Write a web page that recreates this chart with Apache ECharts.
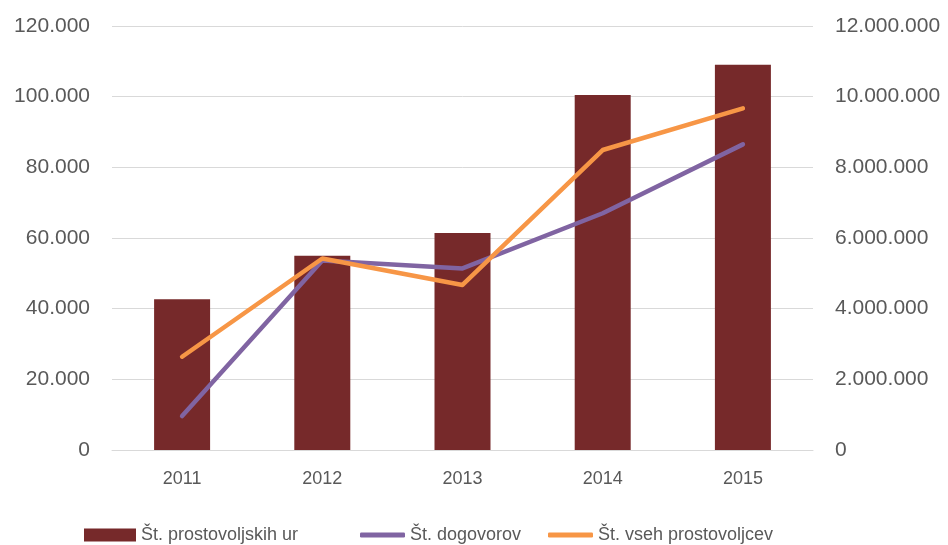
<!DOCTYPE html>
<html>
<head>
<meta charset="utf-8">
<script src="https://cdn.jsdelivr.net/npm/echarts@6/dist/echarts.min.js"></script>
<style>
html,body{margin:0;padding:0;background:#fff;}
#chart{width:948px;height:545px;}
</style>
</head>
<body>
<div id="chart"></div>
<script>
const categories = ['2011', '2012', '2013', '2014', '2015'];
const hoursName = 'Št. prostovoljskih ur';
const agreementsName = 'Št. dogovorov';
const volunteersName = 'Št. vseh prostovoljcev';
const hours = [4270000, 5500000, 6140000, 10050000, 10900000];
const agreements = [9600, 53600, 51400, 67000, 86500];
const volunteers = [26400, 54200, 46700, 84900, 96700];
const leftTicks = { min: 0, max: 120000, interval: 20000 };
const rightTicks = { min: 0, max: 12000000, interval: 2000000 };

function fmt(v) {
  return String(Math.round(v)).replace(/\B(?=(\d{3})+(?!\d))/g, '.');
}

const FONT = '"Liberation Sans", Arial, sans-serif';
const TXT = '#595959';

const chart = echarts.init(document.getElementById('chart'), null, { renderer: 'canvas' });
chart.setOption({
  animation: false,
  backgroundColor: '#ffffff',
  textStyle: { fontFamily: FONT, color: TXT },
  grid: { left: 112, right: 135, top: 26, bottom: 95, containLabel: false },
  legend: [
    {
      data: [{ name: hoursName, icon: 'rect' }],
      left: 79, top: 521, itemWidth: 52, itemHeight: 13,
      textStyle: { fontFamily: FONT, fontSize: 18, color: TXT },
      selectedMode: false
    },
    {
      data: [{ name: agreementsName, icon: 'roundRect' }],
      left: 355, top: 521, itemWidth: 45, itemHeight: 5,
      textStyle: { fontFamily: FONT, fontSize: 18, color: TXT },
      selectedMode: false
    },
    {
      data: [{ name: volunteersName, icon: 'roundRect' }],
      left: 543, top: 521, itemWidth: 45, itemHeight: 5,
      textStyle: { fontFamily: FONT, fontSize: 18, color: TXT },
      selectedMode: false
    }
  ],
  xAxis: {
    type: 'category',
    data: categories,
    axisLine: { show: true, lineStyle: { color: '#d9d9d9', width: 1 } },
    axisTick: { show: false },
    axisLabel: { fontFamily: FONT, fontSize: 18, color: TXT, margin: 20 }
  },
  yAxis: [
    {
      type: 'value',
      min: leftTicks.min, max: leftTicks.max, interval: leftTicks.interval,
      axisLine: { show: false },
      axisTick: { show: false },
      splitLine: { show: true, lineStyle: { color: '#d9d9d9', width: 1 } },
      axisLabel: { fontFamily: FONT, fontSize: 21, color: TXT, margin: 22, formatter: fmt }
    },
    {
      type: 'value',
      min: rightTicks.min, max: rightTicks.max, interval: rightTicks.interval,
      axisLine: { show: false },
      axisTick: { show: false },
      splitLine: { show: false },
      axisLabel: { fontFamily: FONT, fontSize: 21, color: TXT, margin: 22, formatter: fmt }
    }
  ],
  series: [
    {
      name: hoursName,
      type: 'bar',
      yAxisIndex: 1,
      data: hours,
      barWidth: 56,
      itemStyle: { color: '#76292a' }
    },
    {
      name: agreementsName,
      type: 'line',
      yAxisIndex: 0,
      data: agreements,
      showSymbol: false,
      symbol: 'none',
      lineStyle: { color: '#8064a2', width: 4.5, cap: 'round', join: 'round' },
      itemStyle: { color: '#8064a2' }
    },
    {
      name: volunteersName,
      type: 'line',
      yAxisIndex: 0,
      data: volunteers,
      showSymbol: false,
      symbol: 'none',
      lineStyle: { color: '#f79646', width: 4.5, cap: 'round', join: 'round' },
      itemStyle: { color: '#f79646' }
    }
  ]
});
</script>
</body>
</html>
